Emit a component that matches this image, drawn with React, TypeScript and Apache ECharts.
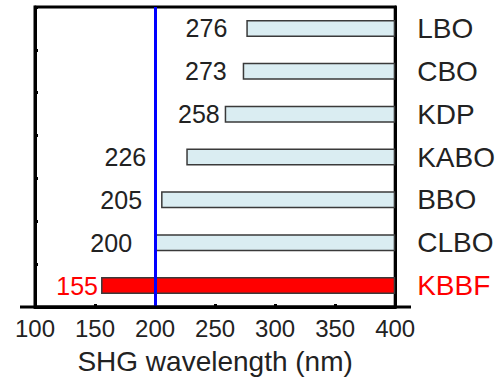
import React, { useEffect, useRef } from "react";
import * as echarts from "echarts";

const categories = ["LBO", "CBO", "KDP", "KABO", "BBO", "CLBO", "KBBF"];
const cutoffNm = [276, 273, 258, 226, 205, 200, 155];
const upperLimitNm = 400;
const referenceLineNm = 200;
const highlighted = ["KBBF"];

const W = 498;
const H = 381;
const GRID = { left: 35, right: 101, top: 7, bottom: 74 };
const FONT = "'Liberation Sans', Arial, Helvetica, sans-serif";
const labelDistances = [19, 16, 5, 40, 19, 23, 3];

export default function App() {
  const ref = useRef<HTMLDivElement>(null);
  useEffect(() => {
    if (!ref.current) return;
    const chart = echarts.init(ref.current, undefined, { renderer: "svg" });
    const isHi = (c: string) => highlighted.includes(c);
    const option: any = {
      animation: false,
      backgroundColor: "#ffffff",
      textStyle: { fontFamily: FONT },
      grid: {
        left: GRID.left,
        right: GRID.right,
        top: GRID.top,
        bottom: GRID.bottom,
        show: true,
        borderColor: "#000",
        borderWidth: 3,
        backgroundColor: "transparent",
      },
      xAxis: {
        type: "value",
        min: 100,
        max: 400,
        interval: 50,
        splitLine: { show: false },
        axisLine: { show: true, lineStyle: { color: "#000", width: 3 } },
        axisTick: { show: true, inside: true, length: 3, lineStyle: { color: "#000", width: 3 } },
        axisLabel: { color: "#222", fontSize: 24, fontFamily: FONT, margin: 9 },
        name: "SHG wavelength (nm)",
        nameLocation: "middle",
        nameGap: 40,
        nameTextStyle: { color: "#222", fontSize: 28, fontFamily: FONT },
      },
      yAxis: [
        {
          type: "category",
          inverse: true,
          data: categories,
          position: "left",
          axisLine: { show: true, lineStyle: { color: "#000", width: 3 } },
          axisTick: { show: true, inside: true, length: 3, lineStyle: { color: "#000", width: 3 } },
          axisLabel: { show: false },
          splitLine: { show: false },
        },
        {
          type: "category",
          inverse: true,
          data: categories,
          position: "right",
          axisLine: { show: true, lineStyle: { color: "#000", width: 3 } },
          axisTick: { show: false },
          splitLine: { show: false },
          axisLabel: {
            margin: 22,
            formatter: (v: string) => (isHi(v) ? `{r|${v}}` : `{n|${v}}`),
            rich: {
              n: { color: "#222", fontSize: 28, fontFamily: FONT },
              r: { color: "#ff0000", fontSize: 28, fontFamily: FONT },
            },
          },
        },
      ],
      series: [
        {
          type: "bar",
          stack: "range",
          yAxisIndex: 0,
          data: cutoffNm,
          barWidth: 17,
          itemStyle: { color: "transparent" },
          silent: true,
        },
        {
          type: "bar",
          stack: "range",
          yAxisIndex: 0,
          barWidth: 17,
          z: 3,
          data: cutoffNm.map((v, i) => ({
            value: upperLimitNm - v,
            itemStyle: {
              color: isHi(categories[i]) ? "#ff0000" : "#daedf2",
              borderColor: "#3a3a3a",
              borderWidth: 1.5,
            },
            label: {
              show: true,
              position: "left",
              distance: labelDistances[i],
              formatter: String(v),
              color: isHi(categories[i]) ? "#ff0000" : "#222",
              fontSize: 25,
              fontFamily: FONT,
            },
          })),
          markLine: {
            silent: true,
            symbol: "none",
            label: { show: false },
            lineStyle: { color: "#0000ff", width: 3, type: "solid" },
            data: [{ xAxis: referenceLineNm }],
          },
        },
      ],
      graphic: [
        {
          type: "line",
          shape: { x1: GRID.left - 15, y1: H - GRID.bottom, x2: W - GRID.right + 14, y2: H - GRID.bottom },
          style: { stroke: "#000", lineWidth: 3 },
          z: 10,
        },
      ],
    };
    chart.setOption(option);
    return () => chart.dispose();
  }, []);
  return (
    <div
      ref={ref}
      style={{ position: "absolute", left: 0, top: 0, width: W, height: H }}
    />
  );
}
